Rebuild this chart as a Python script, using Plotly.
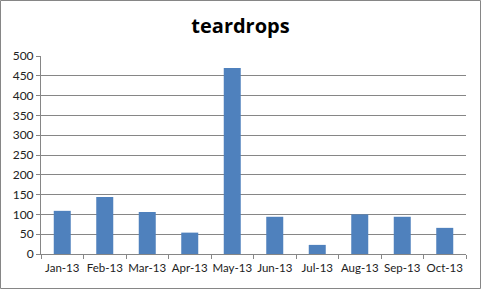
import plotly.graph_objects as go

months = ["Jan-13", "Feb-13", "Mar-13", "Apr-13", "May-13", "Jun-13", "Jul-13", "Aug-13", "Sep-13", "Oct-13"]
teardrops = [109, 144, 106, 54, 470, 94, 23, 100, 94, 66]
y_ticks = [0, 50, 100, 150, 200, 250, 300, 350, 400, 450, 500]

fig = go.Figure(go.Bar(x=months, y=teardrops, marker=dict(color="#4F81BD", line=dict(width=0)), width=0.4))

fig.update_layout(
    width=481, height=289,
    margin=dict(l=41, r=15, t=56, b=35, autoexpand=False),
    paper_bgcolor="white", plot_bgcolor="white",
    title=dict(text="<b>teardrops</b>", x=0.5, xanchor="center", y=0.91, yanchor="middle",
               font=dict(family="Open Sans", size=20, color="black")),
    font=dict(family="Lato", size=11, color="#222"),
    showlegend=False,
)
fig.update_xaxes(showline=True, linecolor="#868686", linewidth=1, ticks="outside", tickson="boundaries",
                 ticklen=4, tickcolor="#868686", showgrid=False, tickangle=0, automargin=False,
                 ticklabelstandoff=3, tickfont=dict(family="Lato", size=11.5))
fig.update_yaxes(range=[0, 500], tickvals=y_ticks, showgrid=True, gridcolor="#868686", gridwidth=1,
                 showline=True, linecolor="#868686", ticks="outside", ticklen=4, tickcolor="#868686",
                 zeroline=False, automargin=False, tickfont=dict(family="Lato", size=12))
fig.add_shape(type="rect", xref="paper", yref="paper", x0=-40.5/425, x1=1+14.5/425, y0=-34.5/198, y1=1+55.5/198,
              line=dict(color="#868686", width=1), fillcolor="rgba(0,0,0,0)")
fig.write_html("out.html")
